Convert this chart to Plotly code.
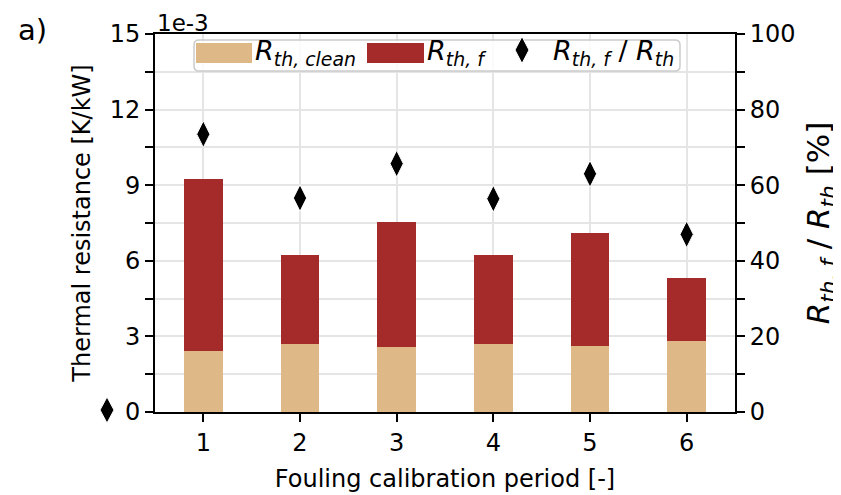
import plotly.graph_objects as go

# ---- data (thermal resistance in units of 1e-3 K/kW) ----
periods = [1, 2, 3, 4, 5, 6]
r_clean = [2.43, 2.70, 2.58, 2.70, 2.62, 2.83]
r_fouling = [6.82, 3.53, 4.96, 3.53, 4.48, 2.49]
ratio_pct = [73.5, 56.6, 65.7, 56.4, 63.0, 47.0]
x_ticks = [1, 2, 3, 4, 5, 6]
y_ticks = [0, 3, 6, 9, 12, 15]
y2_ticks = [0, 20, 40, 60, 80, 100]

TAN = "#deb887"
BROWN = "#a52a2a"
FONT = "DejaVu Sans"
GRID = "#e5e5e5"

# the page body has an 8px margin, so the figure is offset by 8px
OFF = 8
FIG_W, FIG_H = 841 - OFF, 495 - OFF
# plot area in screen pixels
L, R, T, B = 155, 735, 34, 412
W, H = R - L, B - T


def px(x):
    return (x - L) / W


def py(y):
    return (B - y) / H


fig = go.Figure()
fig.add_trace(go.Bar(x=periods, y=r_clean, marker=dict(color=TAN, line=dict(width=0)),
                     width=0.4, showlegend=False))
fig.add_trace(go.Bar(x=periods, y=r_fouling, marker=dict(color=BROWN, line=dict(width=0)),
                     width=0.4, showlegend=False))
fig.add_trace(go.Scatter(x=periods, y=ratio_pct, yaxis="y2", mode="markers",
                         marker=dict(symbol="diamond-tall", size=19, color="black",
                                     line=dict(color="white", width=1)),
                         showlegend=False, cliponaxis=False))

axis_common = dict(showline=True, linecolor="black", linewidth=2, ticks="outside",
                   tickwidth=2, ticklen=8, tickcolor="black", automargin=False,
                   tickfont=dict(family=FONT, size=24, color="black"), zeroline=False)

fig.update_layout(
    width=FIG_W, height=FIG_H,
    margin=dict(l=L - OFF, r=FIG_W - (R - OFF), t=T - OFF, b=FIG_H - (B - OFF)),
    paper_bgcolor="white", plot_bgcolor="white",
    barmode="stack",
    font=dict(family=FONT, color="black"),
    xaxis=dict(range=[0.5, 6.5], tickvals=x_ticks, ticktext=[str(v) for v in x_ticks],
               showgrid=True, gridcolor=GRID, gridwidth=1.5, mirror=True,
               title=dict(text="Fouling calibration period [-]",
                          font=dict(family=FONT, size=24, color="black"), standoff=14),
               **axis_common),
    yaxis=dict(range=[0, 15], tickvals=y_ticks, ticktext=[str(v) for v in y_ticks],
               showgrid=True, gridcolor=GRID, gridwidth=1.5,
               minor=dict(dtick=1.5, tick0=0, ticks="outside", ticklen=8, tickwidth=2,
                          tickcolor="black", showgrid=True, gridcolor=GRID, gridwidth=1.5),
               title=dict(text="Thermal resistance [K/kW]",
                          font=dict(family=FONT, size=24, color="black"), standoff=12),
               **axis_common),
    yaxis2=dict(range=[0, 100], tickvals=y2_ticks, ticktext=[str(v) for v in y2_ticks],
                overlaying="y", side="right", showgrid=False,
                minor=dict(dtick=10, tick0=0, ticks="outside", ticklen=8, tickwidth=2,
                           tickcolor="black", showgrid=False),
                title=dict(text="<i>R</i><sub><i>th, f</i></sub> / <i>R</i><sub><i>th</i></sub> [%]",
                           font=dict(family=FONT, size=31, color="black"), standoff=20),
                **axis_common),
)


def rounded_box(x0, y0, x1, y1, r):
    rx, ry = r / W, r / H
    a, b, c, d = px(x0), py(y1), px(x1), py(y0)  # left, bottom, right, top
    return (f"M{a+rx},{b} L{c-rx},{b} Q{c},{b} {c},{b+ry} L{c},{d-ry} Q{c},{d} {c-rx},{d} "
            f"L{a+rx},{d} Q{a},{d} {a},{d-ry} L{a},{b+ry} Q{a},{b} {a+rx},{b} Z")


def diamond_path(cx, cy, w, h):
    x0, y0 = px(cx), py(cy)
    dx, dy = (w / 2) / W, (h / 2) / H
    return f"M{x0},{y0+dy} L{x0+dx},{y0} L{x0},{y0-dy} L{x0-dx},{y0} Z"


shapes = [
    dict(type="path", xref="paper", yref="paper", path=rounded_box(194, 40, 680, 71, 5),
         fillcolor="rgba(255,255,255,0.85)", line=dict(color="#cccccc", width=1.5)),
    dict(type="rect", xref="paper", yref="paper", x0=px(196), x1=px(252), y0=py(63), y1=py(43),
         fillcolor=TAN, line=dict(width=0)),
    dict(type="rect", xref="paper", yref="paper", x0=px(367), x1=px(424), y0=py(63), y1=py(43),
         fillcolor=BROWN, line=dict(width=0)),
    dict(type="path", xref="paper", yref="paper", path=diamond_path(522, 50, 14, 27),
         fillcolor="black", line=dict(color="white", width=1)),
    dict(type="path", xref="paper", yref="paper", path=diamond_path(107, 410, 14, 26),
         fillcolor="black", line=dict(color="white", width=1)),
]
fig.update_layout(shapes=shapes)

leg_font = dict(family=FONT, size=27, color="black")
annotations = [
    dict(text="<i>R</i><sub><i>th, clean</i></sub>", x=px(253), y=py(53), xref="paper", yref="paper",
         xanchor="left", yanchor="middle", showarrow=False, font=leg_font),
    dict(text="<i>R</i><sub><i>th, f</i></sub>", x=px(425), y=py(53), xref="paper", yref="paper",
         xanchor="left", yanchor="middle", showarrow=False, font=leg_font),
    dict(text="<i>R</i><sub><i>th, f</i></sub> / <i>R</i><sub><i>th</i></sub>", x=px(551), y=py(53),
         xref="paper", yref="paper", xanchor="left", yanchor="middle", showarrow=False, font=leg_font),
    dict(text="1e-3", x=px(155), y=py(8), xref="paper", yref="paper", xanchor="left",
         yanchor="top", showarrow=False, font=dict(family=FONT, size=23, color="black")),
    dict(text="a)", x=px(16), y=py(30), xref="paper", yref="paper", xanchor="left",
         yanchor="middle", showarrow=False, font=dict(family=FONT, size=29, color="black")),
]
fig.update_layout(annotations=annotations)

fig.write_html("out.html")
